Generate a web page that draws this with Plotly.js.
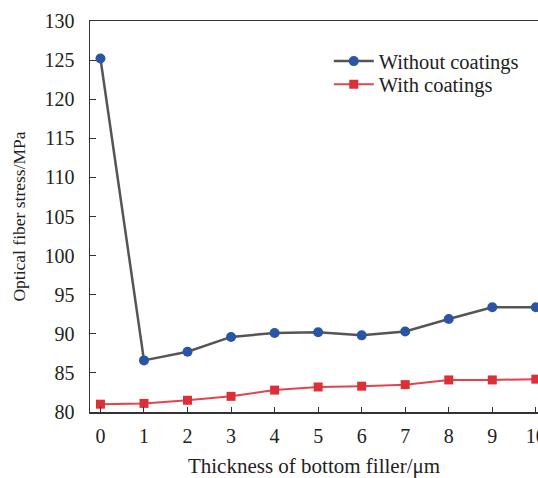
<!DOCTYPE html>
<html>
<head>
<meta charset="utf-8">
<script src="https://cdn.plot.ly/plotly-3.0.1.min.js"></script>
<style>html,body{margin:0;padding:0;overflow:hidden;background:#fff;}</style>
</head>
<body>
<div id="chart" style="width:538px;height:478px;"></div>
<script>
const thickness = [0, 1, 2, 3, 4, 5, 6, 7, 8, 9, 10];
const withoutCoatings = [125.2, 86.6, 87.7, 89.6, 90.1, 90.2, 89.8, 90.3, 91.9, 93.4, 93.4];
const withCoatings = [81.0, 81.1, 81.5, 82.0, 82.8, 83.2, 83.3, 83.5, 84.1, 84.1, 84.2];
const seriesNames = ["Without coatings", "With coatings"];
const xTitle = "Thickness of bottom filler/\u03bcm";
const yTitle = "Optical fiber stress/MPa";

const fam = "Liberation Serif, Times New Roman, serif";
const font = {family: fam, size: 20, color: "#222"};
const legFont = {family: fam, size: 20.5, color: "#222"};

const traces = [
  {
    x: thickness, y: withoutCoatings, name: seriesNames[0], type: "scatter", mode: "lines+markers",
    line: {color: "#555555", width: 2.5},
    marker: {symbol: "circle", size: 10, color: "#2a55a5"},
    legend: "legend"
  },
  {
    x: thickness, y: withCoatings, name: seriesNames[1], type: "scatter", mode: "lines+markers",
    line: {color: "#e0454c", width: 2},
    marker: {symbol: "square", size: 9, color: "#dc3038"},
    legend: "legend2"
  }
];

const layout = {
  width: 538, height: 478,
  margin: {l: 90, r: 0, t: 20.5, b: 66},
  paper_bgcolor: "#fff", plot_bgcolor: "#fff",
  font: font,
  showlegend: true,
  legend: {
    x: 0.533, xanchor: "left", y: 0.897, yanchor: "middle",
    font: legFont, bgcolor: "rgba(0,0,0,0)", itemwidth: 40
  },
  legend2: {
    x: 0.533, xanchor: "left", y: 0.838, yanchor: "middle",
    font: legFont, bgcolor: "rgba(0,0,0,0)", itemwidth: 40
  },
  xaxis: {
    range: [-0.24, 10.05],
    tickvals: thickness,
    ticks: "inside", ticklen: 5, tickcolor: "#333",
    showline: true, linecolor: "#333", linewidth: 1.5, mirror: true,
    showgrid: false, zeroline: false,
    ticklabelstandoff: 5,
    ticklabeloverflow: "allow",
    tickfont: font,
    title: {text: xTitle, font: {family: fam, size: 21, color: "#222"}, standoff: 16}
  },
  yaxis: {
    range: [80, 130],
    dtick: 5,
    ticks: "inside", ticklen: 6, tickcolor: "#333",
    showline: true, linecolor: "#333", linewidth: 1.5,
    showgrid: false, zeroline: false,
    ticklabelstandoff: 10,
    tickfont: font,
    title: {text: yTitle, font: {family: fam, size: 17.5, color: "#222"}, standoff: 14}
  }
};

Plotly.newPlot("chart", traces, layout, {displayModeBar: false, staticPlot: true});
</script>
</body>
</html>
